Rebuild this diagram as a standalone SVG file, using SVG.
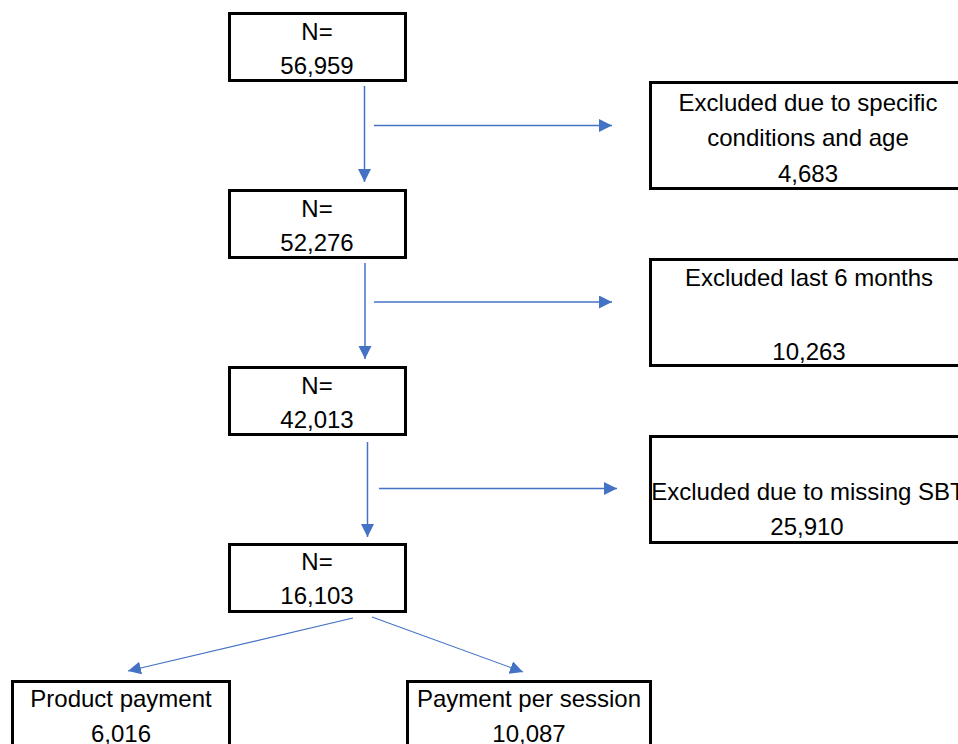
<svg xmlns="http://www.w3.org/2000/svg" width="958" height="744" viewBox="0 0 958 744">
<style>
.box{fill:#ffffff;stroke:#000000;stroke-width:3}
.t{font-family:"Liberation Sans",Arial,sans-serif;font-size:24px;fill:#000000;text-anchor:middle}
.c{fill:none;stroke:#4472C4;stroke-width:1.5}
.d{fill:none;stroke:#4472C4;stroke-width:1.1}
</style>
<defs>
<marker id="ah" markerUnits="userSpaceOnUse" markerWidth="14" markerHeight="14" refX="13" refY="6.5" orient="auto">
<path d="M0,0 L13,6.5 L0,13 z" fill="#4472C4"/>
</marker>
</defs>
<rect width="958" height="744" fill="#ffffff"/>
<g id="n1"><rect class="box" x="229.5" y="13.5" width="176" height="67"/><text class="t" x="317" y="40">N=</text><text class="t" x="317" y="74">56,959</text></g>
<g id="n2"><rect class="box" x="229.5" y="190.5" width="176" height="67"/><text class="t" x="317" y="217">N=</text><text class="t" x="317" y="251">52,276</text></g>
<g id="n3"><rect class="box" x="229.5" y="367.5" width="176" height="67"/><text class="t" x="317" y="394">N=</text><text class="t" x="317" y="428">42,013</text></g>
<g id="n4"><rect class="box" x="229.5" y="544.5" width="176" height="67"/><text class="t" x="317" y="570">N=</text><text class="t" x="317" y="604">16,103</text></g>
<g id="e1"><rect class="box" x="650.5" y="82.5" width="400" height="106"/><text class="t" x="808" y="111">Excluded due to specific</text><text class="t" x="808" y="146">conditions and age</text><text class="t" x="808" y="182">4,683</text></g>
<g id="e2"><rect class="box" x="650.5" y="259.5" width="400" height="106"/><text class="t" x="809" y="286">Excluded last 6 months</text><text class="t" x="809" y="360">10,263</text></g>
<g id="e3"><rect class="box" x="650.5" y="436.5" width="400" height="106"/><text class="t" x="808" y="500">Excluded due to missing SBT</text><text class="t" x="807" y="535">25,910</text></g>
<g id="b1"><rect class="box" x="12.5" y="681.5" width="217" height="100"/><text class="t" x="121" y="707">Product payment</text><text class="t" x="121" y="742">6,016</text></g>
<g id="b2"><rect class="box" x="407.5" y="681.5" width="243" height="100"/><text class="t" x="529" y="707">Payment per session</text><text class="t" x="529" y="742">10,087</text></g>
<g id="connectors">
<line class="c" x1="364.5" y1="86" x2="364.5" y2="182" marker-end="url(#ah)"/>
<line class="c" x1="374" y1="125.5" x2="612" y2="125.5" marker-end="url(#ah)"/>
<line class="c" x1="365" y1="263" x2="365" y2="359" marker-end="url(#ah)"/>
<line class="c" x1="374" y1="302" x2="612" y2="302" marker-end="url(#ah)"/>
<line class="c" x1="367.5" y1="442" x2="367.5" y2="537" marker-end="url(#ah)"/>
<line class="c" x1="379" y1="488.5" x2="617" y2="488.5" marker-end="url(#ah)"/>
<line class="d" x1="353" y1="618" x2="128" y2="671" marker-end="url(#ah)"/>
<line class="d" x1="372" y1="617" x2="523" y2="672" marker-end="url(#ah)"/>
</g>
</svg>
